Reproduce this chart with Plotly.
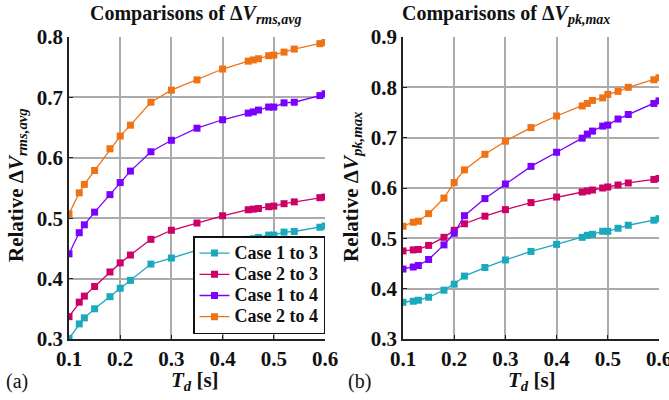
import plotly.graph_objects as go

td = [0.1, 0.12, 0.13, 0.15, 0.18, 0.2, 0.22, 0.26, 0.3, 0.35, 0.4, 0.45, 0.46, 0.47, 0.49, 0.5, 0.52, 0.54, 0.59, 0.6]

series_names = ["Case 1 to 3", "Case 2 to 3", "Case 1 to 4", "Case 2 to 4"]
colors = ["#1aa9bd", "#cc0066", "#7a00ff", "#ef7314"]

# (a) Relative dV rms,avg
rms_c13 = [0.301, 0.325, 0.335, 0.350, 0.370, 0.384, 0.397, 0.424, 0.434, 0.447, 0.457, 0.465, 0.466, 0.468, 0.472, 0.472, 0.477, 0.478, 0.485, 0.487]
rms_c23 = [0.337, 0.361, 0.371, 0.387, 0.411, 0.426, 0.439, 0.465, 0.480, 0.492, 0.504, 0.514, 0.515, 0.516, 0.519, 0.520, 0.524, 0.527, 0.534, 0.535]
rms_c14 = [0.441, 0.476, 0.489, 0.510, 0.539, 0.559, 0.578, 0.610, 0.629, 0.649, 0.663, 0.674, 0.676, 0.679, 0.684, 0.684, 0.691, 0.692, 0.703, 0.706]
rms_c24 = [0.507, 0.542, 0.556, 0.579, 0.615, 0.636, 0.654, 0.692, 0.712, 0.729, 0.747, 0.760, 0.762, 0.764, 0.769, 0.770, 0.775, 0.780, 0.789, 0.791]

# (b) Relative dV pk,max
pk_c13 = [0.373, 0.375, 0.377, 0.383, 0.397, 0.409, 0.425, 0.442, 0.457, 0.474, 0.488, 0.502, 0.506, 0.508, 0.514, 0.514, 0.520, 0.526, 0.536, 0.539]
pk_c23 = [0.475, 0.477, 0.478, 0.486, 0.502, 0.516, 0.529, 0.544, 0.557, 0.571, 0.582, 0.592, 0.594, 0.596, 0.600, 0.602, 0.606, 0.610, 0.617, 0.619]
pk_c14 = [0.439, 0.443, 0.446, 0.458, 0.487, 0.510, 0.545, 0.579, 0.608, 0.643, 0.671, 0.699, 0.707, 0.713, 0.723, 0.725, 0.737, 0.746, 0.768, 0.773]
pk_c24 = [0.524, 0.532, 0.534, 0.549, 0.580, 0.611, 0.636, 0.667, 0.693, 0.720, 0.743, 0.763, 0.768, 0.774, 0.779, 0.786, 0.792, 0.800, 0.815, 0.819]

x_ticks = [0.1, 0.2, 0.3, 0.4, 0.5, 0.6]
y_ticks_a = [0.3, 0.4, 0.5, 0.6, 0.7, 0.8]
y_ticks_b = [0.3, 0.4, 0.5, 0.6, 0.7, 0.8, 0.9]

FONT = "Liberation Serif"

fig = go.Figure()
for name, col, ya in zip(series_names, colors, [rms_c13, rms_c23, rms_c14, rms_c24]):
    fig.add_trace(go.Scatter(x=td, y=ya, mode="lines+markers",
                             name=f'<span style="font-size:18px">{name}</span>',
                             line=dict(color=col, width=1.3),
                             marker=dict(symbol="square", size=7, color=col),
                             xaxis="x", yaxis="y", showlegend=True))
for name, col, yb in zip(series_names, colors, [pk_c13, pk_c23, pk_c14, pk_c24]):
    fig.add_trace(go.Scatter(x=td, y=yb, mode="lines+markers", name=name,
                             line=dict(color=col, width=1.3),
                             marker=dict(symbol="square", size=7, color=col),
                             xaxis="x2", yaxis="y2", showlegend=False))

ax_common = dict(showgrid=True, gridcolor="#ababab", gridwidth=1.5, zeroline=False,
                 showline=True, linecolor="#222222", linewidth=1.5, mirror=False,
                 ticks="inside", ticklen=4, tickcolor="#222222", automargin=False,
                 ticklabeloverflow="allow",
                 tickfont=dict(family=FONT, size=21, color="#111111", weight="bold"))

yd = [1 - 339 / 400, 1 - 37 / 400]
fig.update_layout(
    template="none",
    width=669, height=400,
    margin=dict(l=0, r=0, t=0, b=0, autoexpand=False),
    paper_bgcolor="white", plot_bgcolor="white",
    font=dict(family=FONT, color="#111111"),
    xaxis=dict(domain=[69 / 669, 325 / 669], range=[0.1, 0.6], tickvals=x_ticks,
               ticktext=[f"{v:.1f}" for v in x_ticks], anchor="y", **ax_common),
    yaxis=dict(domain=yd, range=[0.3, 0.8], tickvals=y_ticks_a,
               ticktext=[f"{v:.1f}" for v in y_ticks_a], anchor="x", **ax_common),
    xaxis2=dict(domain=[403 / 669, 659 / 669], range=[0.1, 0.6], tickvals=x_ticks,
                ticktext=[f"{v:.1f}" for v in x_ticks], anchor="y2", **ax_common),
    yaxis2=dict(domain=yd, range=[0.3, 0.9], tickvals=y_ticks_b,
                ticktext=[f"{v:.1f}" for v in y_ticks_b], anchor="x2", **ax_common),
    legend=dict(x=325 / 669, y=1 - 334 / 400, xanchor="right", yanchor="bottom",
                bgcolor="white", bordercolor="#111111", borderwidth=1.5,
                font=dict(family=FONT, size=14, color="#111111", weight="bold"),
                tracegroupgap=0, itemwidth=30),
)

def A(text, x, y, size=21, angle=0, bold=True):
    return dict(text=text, x=x / 669, y=1 - y / 400, xref="paper", yref="paper",
                xanchor="center", yanchor="middle", showarrow=False, textangle=angle,
                font=dict(family=FONT, size=size, color="#111111",
                          weight="bold" if bold else "normal"))

ann = [
    A("Comparisons of Δ<i>V<sub>rms,avg</sub></i>", 195, 15, 20),
    A("Comparisons of Δ<i>V<sub>pk,max</sub></i>", 506, 15, 20),
    A("Relative Δ<i>V<sub>rms,avg</sub></i>", 17, 185, 21, -90),
    A("Relative Δ<i>V<sub>pk,max</sub></i>", 352, 187, 21, -90),
    A("<i>T<sub>d</sub></i> [s]", 195, 381, 21),
    A("<i>T<sub>d</sub></i> [s]", 532, 381, 21),
    A("(a)", 17, 381, 20, bold=False),
    A("(b)", 359, 381, 20, bold=False),
]
fig.update_layout(annotations=ann)

fig.write_html("out.html", config={"displayModeBar": False},
               post_script="document.body.style.margin='0px';document.body.style.padding='0px';")
